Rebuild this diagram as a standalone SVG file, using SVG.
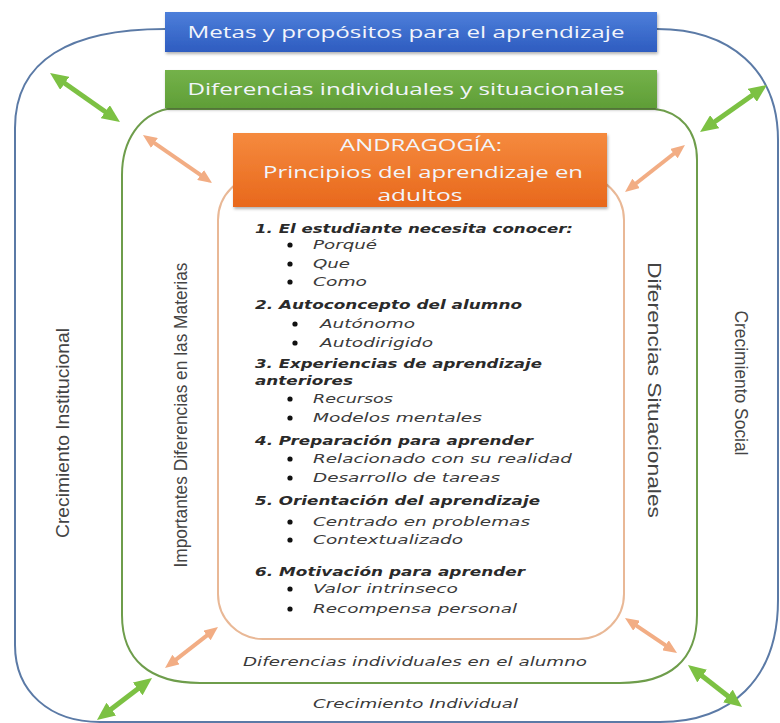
<svg xmlns="http://www.w3.org/2000/svg" width="780" height="723" viewBox="0 0 780 723">
<style>
.frame{fill:none;stroke-width:2}
.hdr{font-family:"Open Sans","DejaVu Sans",sans-serif;font-size:17px;fill:#f2f5fb;text-anchor:middle}
.vt{font-family:"Liberation Sans","DejaVu Sans",sans-serif;font-size:19px;fill:#444;text-anchor:middle}
.h{font-family:"DejaVu Sans",sans-serif;font-size:13px;font-weight:bold;font-style:italic;fill:#2a2a2a}
.i{font-family:"DejaVu Sans",sans-serif;font-size:13px;font-style:italic;fill:#3a3a3a}
.b{fill:#111}
.ga{stroke:#7cc143;stroke-width:5;fill:none}
.oa{stroke:#f2ad84;stroke-width:4;fill:none}
</style>
<defs>
<marker id="gh" viewBox="0 0 18 16" markerWidth="18" markerHeight="16" refX="4" refY="8" orient="auto-start-reverse" markerUnits="userSpaceOnUse"><path d="M0,0 L18,8 L0,16 z" fill="#7cc143"/></marker>
<marker id="oh" viewBox="0 0 14 12" markerWidth="14" markerHeight="12" refX="3" refY="6" orient="auto-start-reverse" markerUnits="userSpaceOnUse"><path d="M0,0 L14,6 L0,12 z" fill="#f2ad84"/></marker>
<linearGradient id="gBlue" x1="0" y1="0" x2="0" y2="1"><stop offset="0" stop-color="#4d7fda"/><stop offset="1" stop-color="#2e5cc0"/></linearGradient>
<linearGradient id="gGreen" x1="0" y1="0" x2="0" y2="1"><stop offset="0" stop-color="#74b24a"/><stop offset="1" stop-color="#5f9e37"/></linearGradient>
<linearGradient id="gOrange" x1="0" y1="0" x2="0" y2="1"><stop offset="0" stop-color="#f58a3e"/><stop offset="1" stop-color="#e8681c"/></linearGradient>
<filter id="sh" x="-5%" y="-20%" width="110%" height="150%"><feDropShadow dx="1" dy="2" stdDeviation="1.5" flood-color="#000" flood-opacity="0.3"/></filter>
</defs>
<rect width="780" height="723" fill="#ffffff"/>

<g id="outer-frame">
<path class="frame" stroke="#5b7aa6" fill="#fbfdfe" d="M165,29 C70,29 15,60 15,128 V645 C15,692 50,722 100,722 H660 C730,722 778,680 778,600 V140 C778,70 730,29 657,29 Z"/>
</g>
<g id="green-frame">
<path class="frame" stroke="#6e9d4b" fill="#fefffd" d="M167,109 C140,115 122,140 122,175 V615 C122,660 150,683 200,683 H620 C670,683 697,660 697,615 V160 C697,130 680,112 655,109 Z"/>
</g>
<g id="peach-frame">
<rect class="frame" stroke="#e9b896" fill="#ffffff" x="218" y="175" width="406" height="464" rx="45"/>
</g>

<g id="connectors">
<line class="ga" x1="61.5" y1="81" x2="108.5" y2="114" marker-start="url(#gh)" marker-end="url(#gh)"/>
<line class="ga" x1="755.5" y1="93" x2="711.5" y2="124" marker-start="url(#gh)" marker-end="url(#gh)"/>
<line class="ga" x1="108.1" y1="711.5" x2="140.9" y2="686.5" marker-start="url(#gh)" marker-end="url(#gh)"/>
<line class="ga" x1="699" y1="673.6" x2="731" y2="698.4" marker-start="url(#gh)" marker-end="url(#gh)"/>
<line class="oa" x1="152" y1="141.3" x2="203" y2="176.7" marker-start="url(#oh)" marker-end="url(#oh)"/>
<line class="oa" x1="676.3" y1="151.8" x2="633.7" y2="185.2" marker-start="url(#oh)" marker-end="url(#oh)"/>
<line class="oa" x1="173.7" y1="661.3" x2="209.3" y2="633.7" marker-start="url(#oh)" marker-end="url(#oh)"/>
<line class="oa" x1="634.1" y1="624.1" x2="667.9" y2="646.9" marker-start="url(#oh)" marker-end="url(#oh)"/>
</g>

<g id="metas">
<rect x="165" y="12" width="492" height="40" fill="url(#gBlue)" filter="url(#sh)"/>
<text class="hdr" x="406" y="38" textLength="437" lengthAdjust="spacingAndGlyphs">Metas y propósitos para el aprendizaje</text>
</g>
<g id="diferencias">
<rect x="165" y="70" width="492" height="38" fill="url(#gGreen)" filter="url(#sh)"/>
<text class="hdr" x="406" y="95" textLength="437" lengthAdjust="spacingAndGlyphs">Diferencias individuales y situacionales</text>
</g>
<g id="andragogia">
<rect x="233" y="133" width="374" height="74" fill="url(#gOrange)" filter="url(#sh)"/>
<text class="hdr" x="421" y="151" textLength="162" lengthAdjust="spacingAndGlyphs" fill="#fdeee3">ANDRAGOGÍA:</text>
<text class="hdr" x="423" y="178" textLength="320" lengthAdjust="spacingAndGlyphs">Principios del aprendizaje en</text>
<text class="hdr" x="420" y="201" textLength="85" lengthAdjust="spacingAndGlyphs">adultos</text>
</g>

<g id="principios">
<text class="h" x="255" y="233" textLength="318" lengthAdjust="spacingAndGlyphs">1. El estudiante necesita conocer:</text>
<circle class="b" cx="290" cy="245" r="2.6"/><text class="i" x="313" y="249" textLength="64" lengthAdjust="spacingAndGlyphs">Porqué</text>
<circle class="b" cx="290" cy="264" r="2.6"/><text class="i" x="313" y="268" textLength="37" lengthAdjust="spacingAndGlyphs">Que</text>
<circle class="b" cx="290" cy="282" r="2.6"/><text class="i" x="313" y="286" textLength="54" lengthAdjust="spacingAndGlyphs">Como</text>

<text class="h" x="255" y="309" textLength="267" lengthAdjust="spacingAndGlyphs">2. Autoconcepto del alumno</text>
<circle class="b" cx="295" cy="324" r="2.6"/><text class="i" x="320" y="328" textLength="95" lengthAdjust="spacingAndGlyphs">Autónomo</text>
<circle class="b" cx="295" cy="343" r="2.6"/><text class="i" x="320" y="347" textLength="113" lengthAdjust="spacingAndGlyphs">Autodirigido</text>

<text class="h" x="255" y="368" textLength="287" lengthAdjust="spacingAndGlyphs">3. Experiencias de aprendizaje</text>
<text class="h" x="255" y="385" textLength="98" lengthAdjust="spacingAndGlyphs">anteriores</text>
<circle class="b" cx="290" cy="399" r="2.6"/><text class="i" x="313" y="403" textLength="80" lengthAdjust="spacingAndGlyphs">Recursos</text>
<circle class="b" cx="290" cy="418" r="2.6"/><text class="i" x="313" y="422" textLength="169" lengthAdjust="spacingAndGlyphs">Modelos mentales</text>

<text class="h" x="255" y="445" textLength="278" lengthAdjust="spacingAndGlyphs">4. Preparación para aprender</text>
<circle class="b" cx="290" cy="459" r="2.6"/><text class="i" x="313" y="463" textLength="259" lengthAdjust="spacingAndGlyphs">Relacionado con su realidad</text>
<circle class="b" cx="290" cy="478" r="2.6"/><text class="i" x="313" y="482" textLength="187" lengthAdjust="spacingAndGlyphs">Desarrollo de tareas</text>

<text class="h" x="255" y="505" textLength="285" lengthAdjust="spacingAndGlyphs">5. Orientación del aprendizaje</text>
<circle class="b" cx="290" cy="522" r="2.6"/><text class="i" x="313" y="526" textLength="217" lengthAdjust="spacingAndGlyphs">Centrado en problemas</text>
<circle class="b" cx="290" cy="540" r="2.6"/><text class="i" x="313" y="544" textLength="150" lengthAdjust="spacingAndGlyphs">Contextualizado</text>

<text class="h" x="255" y="576" textLength="270" lengthAdjust="spacingAndGlyphs">6. Motivación para aprender</text>
<circle class="b" cx="290" cy="589" r="2.6"/><text class="i" x="313" y="593" textLength="145" lengthAdjust="spacingAndGlyphs">Valor intrinseco</text>
<circle class="b" cx="290" cy="609" r="2.6"/><text class="i" x="313" y="613" textLength="204" lengthAdjust="spacingAndGlyphs">Recompensa personal</text>
</g>

<g id="labels">
<text class="i" x="243" y="666" textLength="344" lengthAdjust="spacingAndGlyphs">Diferencias individuales en el alumno</text>
<text class="i" x="313" y="708" textLength="205" lengthAdjust="spacingAndGlyphs">Crecimiento Individual</text>
<text class="vt" transform="translate(69,433) rotate(-90)" textLength="210" lengthAdjust="spacingAndGlyphs">Crecimiento Institucional</text>
<text class="vt" transform="translate(187,415) rotate(-90)" textLength="305" lengthAdjust="spacingAndGlyphs">Importantes Diferencias en las Materias</text>
<text class="vt" transform="translate(648,390) rotate(90)" textLength="256" lengthAdjust="spacingAndGlyphs">Diferencias Situacionales</text>
<text class="vt" transform="translate(735,383) rotate(90)" textLength="145" lengthAdjust="spacingAndGlyphs">Crecimiento Social</text>
</g>
</svg>
